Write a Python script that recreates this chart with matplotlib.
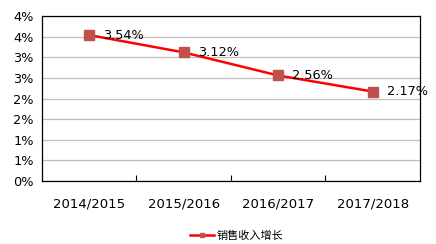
import numpy as np
import matplotlib
matplotlib.use('Agg')
import matplotlib.pyplot as plt
from matplotlib.ticker import FuncFormatter

# data
years = ['2014/2015', '2015/2016', '2016/2017', '2017/2018']
growth = [3.54, 3.12, 2.56, 2.17]  # 销售收入增长, %
series_name = '销售收入增长'

plt.rcParams['font.family'] = ['DejaVu Sans']

fig = plt.figure(figsize=(4.36, 2.44), dpi=100)
ax = fig.add_axes([0.0963, 0.258, 0.867, 0.676])

x = np.arange(len(years))
line, = ax.plot(x, growth, color='#FF0000', lw=1.8, marker='s', markersize=6.5,
                markerfacecolor='#C0504D', markeredgecolor='#C0504D', zorder=3)

for xi, v in zip(x, growth):
    ax.annotate(f'{v:.2f}%', (xi, v), xytext=(10, 0), textcoords='offset points',
                ha='left', va='center', fontsize=9.3, color='#000000')

ax.set_xlim(-0.5, 3.5)
ax.set_ylim(0, 4)
ax.set_yticks(np.arange(0, 4.01, 0.5))
# excel-style rounding (half up), so 0.5 -> 1%
ax.yaxis.set_major_formatter(FuncFormatter(lambda v, p: f'{int(v + 0.5 + 1e-9)}%'))
ax.grid(axis='y', color='#BFBFBF', lw=0.9)
ax.set_axisbelow(True)

ax.set_xticks(x)
ax.set_xticklabels(years, fontsize=9.5)
ax.set_xticks([0.5, 1.5, 2.5], minor=True)
ax.tick_params(axis='x', which='major', length=0, pad=12)
ax.tick_params(axis='x', which='minor', direction='in', length=4, width=0.8)
ax.tick_params(axis='y', length=0, pad=6, labelsize=9.3)

for s in ax.spines.values():
    s.set_color('black')
    s.set_linewidth(0.9)

leg = fig.legend([line], [series_name], loc='center', bbox_to_anchor=(0.542, 0.035),
                 frameon=False, handlelength=2.2, handletextpad=0.2,
                 prop={'family': ['Noto Sans CJK SC', 'DejaVu Sans'], 'size': 8})
leg.legend_handles[0].set_markersize(2.5)

fig.savefig('out.png', dpi=100)
